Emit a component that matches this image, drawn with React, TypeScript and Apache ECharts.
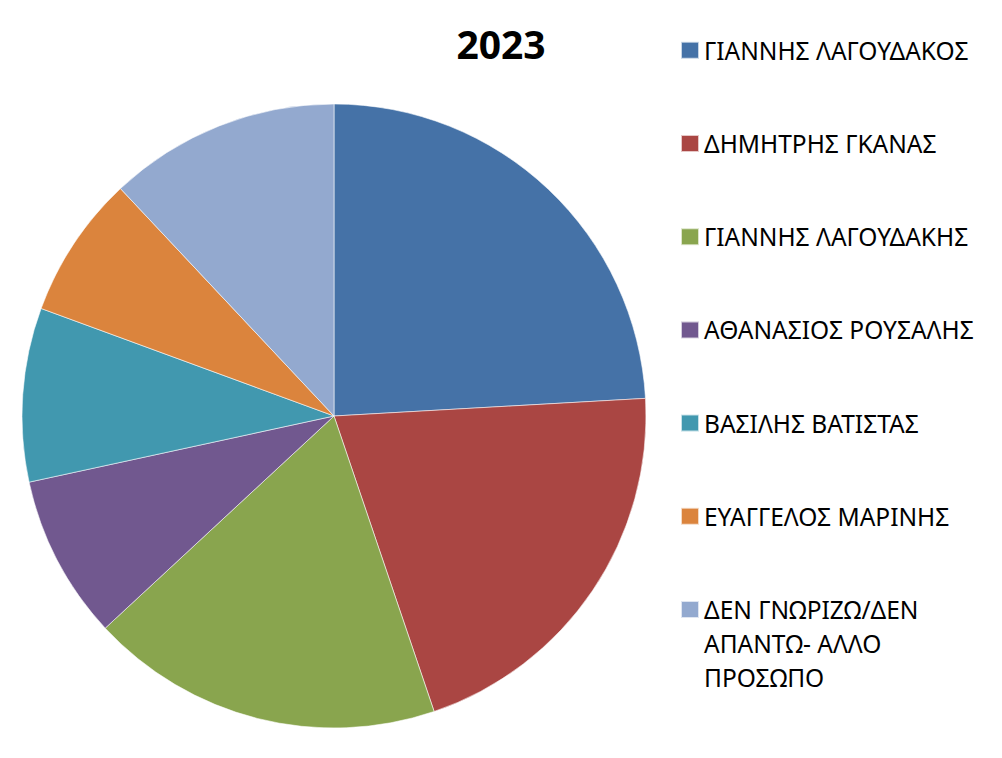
import React, { useEffect, useRef } from 'react';
import * as echarts from 'echarts';

const title = '2023';
const names = [
  'ΓΙΑΝΝΗΣ ΛΑΓΟΥΔΑΚΟΣ',
  'ΔΗΜΗΤΡΗΣ ΓΚΑΝΑΣ',
  'ΓΙΑΝΝΗΣ ΛΑΓΟΥΔΑΚΗΣ',
  'ΑΘΑΝΑΣΙΟΣ ΡΟΥΣΑΛΗΣ',
  'ΒΑΣΙΛΗΣ ΒΑΤΙΣΤΑΣ',
  'ΕΥΑΓΓΕΛΟΣ ΜΑΡΙΝΗΣ',
  'ΔΕΝ ΓΝΩΡΙΖΩ/ΔΕΝ ΑΠΑΝΤΩ- ΑΛΛΟ ΠΡΟΣΩΠΟ',
];
// legend text as it wraps in the original
const legendLines = [
  ['ΓΙΑΝΝΗΣ ΛΑΓΟΥΔΑΚΟΣ'],
  ['ΔΗΜΗΤΡΗΣ ΓΚΑΝΑΣ'],
  ['ΓΙΑΝΝΗΣ ΛΑΓΟΥΔΑΚΗΣ'],
  ['ΑΘΑΝΑΣΙΟΣ ΡΟΥΣΑΛΗΣ'],
  ['ΒΑΣΙΛΗΣ ΒΑΤΙΣΤΑΣ'],
  ['ΕΥΑΓΓΕΛΟΣ ΜΑΡΙΝΗΣ'],
  ['ΔΕΝ ΓΝΩΡΙΖΩ/ΔΕΝ', 'ΑΠΑΝΤΩ- ΑΛΛΟ', 'ΠΡΟΣΩΠΟ'],
];
const values = [24.1, 20.7, 18.3, 8.5, 9.0, 7.4, 12.0];
const colors = ['#4572A7', '#AA4643', '#89A54E', '#71588F', '#4198AF', '#DB843D', '#93A9CF'];

const FONT = '"Noto Sans", sans-serif';
const LINE_H = 34;
const LEGEND_TOP = 50.3;
const LEGEND_STEP = 93.2;

const App: React.FC = () => {
  const chartRef = useRef<HTMLDivElement>(null);

  useEffect(() => {
    if (!chartRef.current) return;
    const chart = echarts.init(chartRef.current, undefined, { renderer: 'svg' });

    // one legend per entry so the wrapped last entry keeps its icon on the first line
    const legends = names.map((name, i) => {
      const lines = legendLines[i];
      // pad with blank lines above so the first line sits level with the icon
      const padded = [...Array(lines.length - 1).fill(''), ...lines];
      const h = padded.length * LINE_H;
      const cy = LEGEND_TOP + i * LEGEND_STEP;
      return {
        data: [name],
        left: 680,
        top: cy - h / 2,
        padding: 0,
        orient: 'vertical' as const,
        icon: 'rect',
        itemWidth: 18,
        itemHeight: 17,
        selectedMode: false,
        formatter: () => padded.join('\n'),
        textStyle: {
          fontFamily: FONT,
          fontSize: 24.5,
          lineHeight: LINE_H,
          color: '#000',
        },
      };
    });

    chart.setOption({
      animation: false,
      color: colors,
      title: {
        text: title,
        left: 'center',
        top: 24,
        padding: 0,
        textStyle: {
          fontFamily: FONT,
          fontSize: 39,
          fontWeight: 'bold',
          color: '#000',
        },
      },
      legend: legends,
      series: [
        {
          type: 'pie',
          center: [334, 416],
          radius: 312,
          startAngle: 90,
          clockwise: true,
          label: { show: false },
          labelLine: { show: false },
          emphasis: { disabled: true },
          itemStyle: { borderColor: 'rgba(255,255,255,0.7)', borderWidth: 0.8 },
          data: names.map((name, i) => ({ name, value: values[i] })),
        },
      ],
    });

    return () => {
      chart.dispose();
    };
  }, []);

  return (
    <div
      ref={chartRef}
      style={{ position: 'fixed', left: 0, top: 0, width: 1002, height: 758, background: '#fff' }}
    />
  );
};

export default App;
